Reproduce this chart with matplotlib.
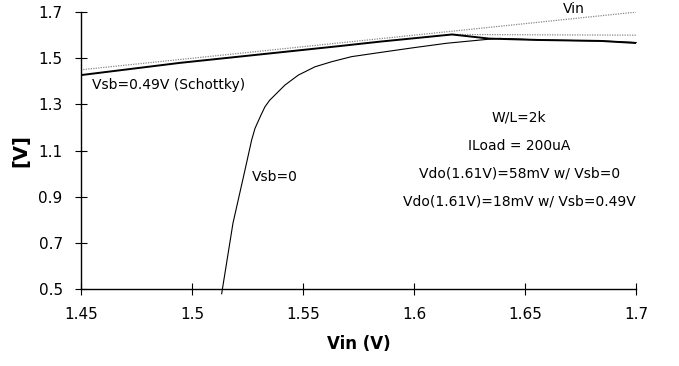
import matplotlib.pyplot as plt

# Vin reference (output = input)
vin_x = [1.45, 1.70]
vin_y = [1.45, 1.70]

# Vsb=0.49V (Schottky)
vsb049_x = [1.45, 1.4946, 1.5667, 1.5847, 1.6171, 1.634, 1.657, 1.684, 1.70]
vsb049_y = [1.427, 1.480, 1.553, 1.572, 1.603, 1.585, 1.579, 1.575, 1.566]

# flat dotted continuation near 1.6 V
flat_x = [1.6171, 1.70]
flat_y = [1.603, 1.600]

# Vsb=0
vsb0_x = [1.5134, 1.5185, 1.5239, 1.5269, 1.5284, 1.5310, 1.5329, 1.5350,
          1.5374, 1.5419, 1.5479, 1.5554, 1.5629, 1.5719, 1.5847, 1.6000,
          1.6147, 1.6342, 1.6387, 1.657, 1.6838, 1.70]
vsb0_y = [0.48, 0.786, 1.016, 1.146, 1.196, 1.252, 1.290, 1.318,
          1.341, 1.384, 1.427, 1.463, 1.485, 1.507, 1.525, 1.546,
          1.565, 1.583, 1.586, 1.579, 1.575, 1.568]

xticks = [1.45, 1.5, 1.55, 1.6, 1.65, 1.7]
xtick_labels = ["1.45", "1.5", "1.55", "1.6", "1.65", "1.7"]
yticks = [0.5, 0.7, 0.9, 1.1, 1.3, 1.5, 1.7]
ytick_labels = ["0.5", "0.7", "0.9", "1.1", "1.3", "1.5", "1.7"]

notes = ["W/L=2k", "ILoad = 200uA",
         "Vdo(1.61V)=58mV w/ Vsb=0", "Vdo(1.61V)=18mV w/ Vsb=0.49V"]

fig = plt.figure(figsize=(6.79, 3.66), dpi=100)
ax = fig.add_axes([0.119, 0.21, 0.818, 0.757])

ax.plot(vin_x, vin_y, color="#888888", lw=0.9, ls=(0, (1, 1)))
ax.plot(flat_x, flat_y, color="#888888", lw=0.9, ls=(0, (1, 1)))
ax.plot(vsb049_x, vsb049_y, color="black", lw=1.4)
ax.plot(vsb0_x, vsb0_y, color="black", lw=0.8, clip_on=False)

ax.set_xlim(1.45, 1.70)
ax.set_ylim(0.5, 1.7)
ax.set_xticks(xticks)
ax.set_xticklabels(xtick_labels)
ax.set_yticks(yticks)
ax.set_yticklabels(ytick_labels)
ax.tick_params(direction="inout", length=8, width=0.8, labelsize=11, pad=9)
ax.spines["top"].set_visible(False)
ax.spines["right"].set_visible(False)
for s in ["left", "bottom"]:
    ax.spines[s].set_linewidth(1.0)
ax.patch.set_alpha(0)

ax.set_xlabel("Vin (V)", fontsize=12, fontweight="bold", labelpad=9)
ax.set_ylabel("[V]", fontsize=14, fontweight="bold", labelpad=6)

ax.text(1.672, 1.712, "Vin", fontsize=10, ha="center", va="center")
ax.text(1.455, 1.382, "Vsb=0.49V (Schottky)", fontsize=10, ha="left", va="center")
ax.text(1.527, 0.985, "Vsb=0", fontsize=10, ha="left", va="center")
for i, t in enumerate(notes):
    ax.text(1.6473, 1.244 - i * 0.122, t, fontsize=10, ha="center", va="center")

fig.savefig("out.png", dpi=100)
